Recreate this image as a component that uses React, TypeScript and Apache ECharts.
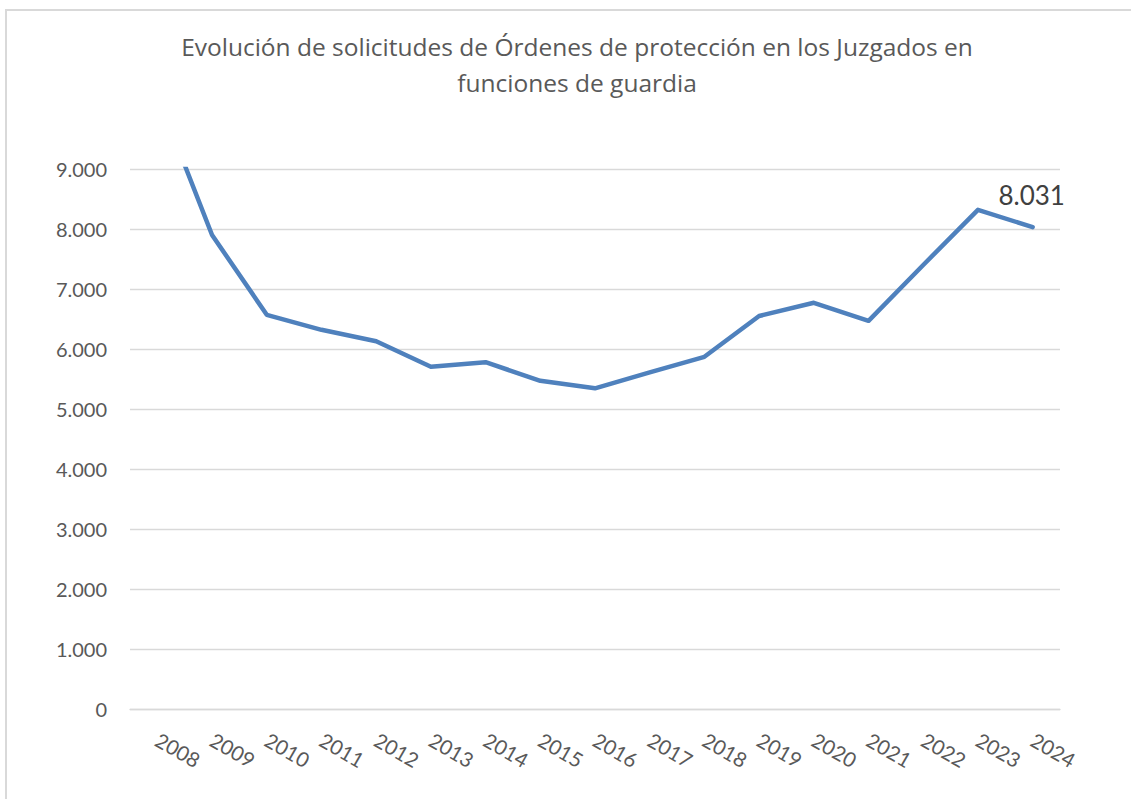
import React, { useEffect, useRef } from "react";
import * as echarts from "echarts";

const years: string[] = [
  "2008", "2009", "2010", "2011", "2012", "2013", "2014", "2015", "2016",
  "2017", "2018", "2019", "2020", "2021", "2022", "2023", "2024",
];
const solicitudes: number[] = [
  10230, 7900, 6570, 6320, 6130, 5705, 5780, 5470, 5345,
  5610, 5870, 6550, 6770, 6470, 7400, 8320, 8031,
];
const yTicks = { min: 0, max: 9000, interval: 1000 };
const titleText =
  "Evolución de solicitudes de Órdenes de protección en los Juzgados en\nfunciones de guardia";

const fmt = (v: number): string =>
  String(Math.round(v)).replace(/\B(?=(\d{3})+(?!\d))/g, ".");

export default function App() {
  const ref = useRef<HTMLDivElement>(null);
  useEffect(() => {
    if (!ref.current) return;
    const chart = echarts.init(ref.current, undefined, { renderer: "svg" });
    const last = solicitudes.length - 1;
    chart.setOption({
      animation: false,
      backgroundColor: "#ffffff",
      textStyle: { fontFamily: "Lato" },
      title: {
        text: titleText,
        left: 572,
        top: 23,
        textAlign: "center",
        textStyle: {
          fontFamily: "Open Sans",
          fontSize: 24.5,
          fontWeight: "normal",
          color: "#595959",
          lineHeight: 36,
        },
      },
      graphic: [
        {
          type: "rect",
          shape: { x: 6, y: 10, width: 1200, height: 900 },
          style: { fill: "none", stroke: "#d9d9d9", lineWidth: 2 },
          silent: true,
        },
      ],
      grid: { left: 130, right: 71, top: 169, bottom: 90, containLabel: false },
      xAxis: {
        type: "category",
        data: years,
        boundaryGap: true,
        axisLine: { show: true, lineStyle: { color: "#d9d9d9", width: 1.3 } },
        axisTick: { show: false },
        axisLabel: {
          rotate: -30,
          margin: 29,
          fontFamily: "Lato",
          fontSize: 20.5,
          color: "#595959",
          interval: 0,
        },
      },
      yAxis: {
        type: "value",
        min: yTicks.min,
        max: yTicks.max,
        interval: yTicks.interval,
        axisLine: { show: false },
        axisTick: { show: false },
        splitLine: { lineStyle: { color: "#d9d9d9", width: 1.3 } },
        axisLabel: {
          margin: 23,
          fontFamily: "Lato",
          fontSize: 20,
          color: "#595959",
          formatter: (v: number) => fmt(v),
        },
      },
      series: [
        {
          type: "line",
          clip: true,
          showSymbol: true,
          symbol: "circle",
          symbolSize: 0,
          lineStyle: { color: "#4F81BD", width: 4.5, join: "round", cap: "round" },
          itemStyle: { color: "#4F81BD" },
          data: solicitudes.map((v, i) =>
            i === last
              ? {
                  value: v,
                  label: {
                    show: true,
                    position: "top",
                    distance: 19,
                    offset: [-1, 0],
                    fontFamily: "Lato",
                    fontSize: 26,
                    color: "#404040",
                    formatter: (p: any) => fmt(p.value),
                  },
                }
              : v
          ),
        },
      ],
    });
    return () => chart.dispose();
  }, []);
  return (
    <div
      ref={ref}
      style={{ position: "absolute", left: 0, top: 0, width: 1131, height: 799 }}
    />
  );
}
